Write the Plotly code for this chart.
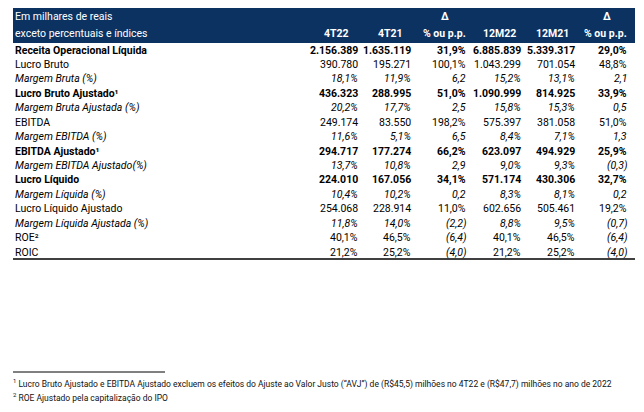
import plotly.graph_objects as go

# ---- data ----
row_labels = [
    "Receita Operacional Líquida", "Lucro Bruto", "Margem Bruta (%)",
    "Lucro Bruto Ajustado¹", "Margem Bruta Ajustada (%)", "EBITDA",
    "Margem EBITDA (%)", "EBITDA Ajustado¹", "Margem EBITDA Ajustado(%)",
    "Lucro Líquido", "Margem Líquida (%)", "Lucro Líquido Ajustado",
    "Margem Líquida Ajustada (%)", "ROE²", "ROIC",
]
col_4T22 = ["2.156.389", "390.780", "18,1%", "436.323", "20,2%", "249.174", "11,6%",
            "294.717", "13,7%", "224.010", "10,4%", "254.068", "11,8%", "40,1%", "21,2%"]
col_4T21 = ["1.635.119", "195.271", "11,9%", "288.995", "17,7%", "83.550", "5,1%",
            "177.274", "10,8%", "167.056", "10,2%", "228.914", "14,0%", "46,5%", "25,2%"]
col_d1 = ["31,9%", "100,1%", "6,2", "51,0%", "2,5", "198,2%", "6,5",
          "66,2%", "2,9", "34,1%", "0,2", "11,0%", "(2,2)", "(6,4)", "(4,0)"]
col_12M22 = ["6.885.839", "1.043.299", "15,2%", "1.090.999", "15,8%", "575.397", "8,4%",
             "623.097", "9,0%", "571.174", "8,3%", "602.656", "8,8%", "40,1%", "21,2%"]
col_12M21 = ["5.339.317", "701.054", "13,1%", "814.925", "15,3%", "381.058", "7,1%",
             "494.929", "9,3%", "430.306", "8,1%", "505.461", "9,5%", "46,5%", "25,2%"]
col_d2 = ["29,0%", "48,8%", "2,1", "33,9%", "0,5", "51,0%", "1,3",
          "25,9%", "(0,3)", "32,7%", "0,2", "19,2%", "(0,7)", "(6,4)", "(4,0)"]
# row style: b = bold, i = italic, n = normal, r = normal with italic deltas
row_style = ["b", "n", "i", "b", "i", "n", "i", "b", "i", "b", "i", "n", "i", "r", "r"]

header_top = ["Em milhares de reais", "Δ", "Δ"]
header_sub = ["exceto percentuais e índices", "4T22", "4T21", "% ou p.p.", "12M22", "12M21", "% ou p.p."]
footnotes = [
    "<sup>1</sup> Lucro Bruto Ajustado e EBITDA Ajustado excluem os efeitos do Ajuste ao Valor Justo (“AVJ”) de (R$45,5) milhões no 4T22 e (R$47,7) milhões no ano de 2022",
    "<sup>2</sup> ROE Ajustado pela capitalização do IPO",
]

# ---- layout constants ----
FONT = "Roboto"
NAVY = "#0c3262"
W, H = 644, 412
OFF = 8  # page body margin
LEFT, RIGHT = 13, 635
col_right = [359, 412, 467, 522, 576, 628]
row_y0, row_dy = 50, 14.43

fig = go.Figure()
ann = []

def add(text, x, y, anchor="left", bold=False, italic=False, size=10.5, color="#000"):
    t = text
    if bold:
        t = "<b>" + t + "</b>"
    if italic:
        t = "<i>" + t + "</i>"
    ann.append(dict(text=t, x=x, y=y, xref="x", yref="y", xanchor=anchor, yanchor="middle",
                    showarrow=False, borderpad=0,
                    font=dict(family=FONT, size=size, color=color)))

shapes = [
    dict(type="rect", x0=LEFT, x1=RIGHT, y0=7, y1=43, xref="x", yref="y",
         fillcolor=NAVY, line=dict(width=0), layer="below"),
    dict(type="line", x0=LEFT, x1=RIGHT, y0=259, y1=259, xref="x", yref="y",
         line=dict(color="#000", width=1.6)),
    dict(type="line", x0=LEFT, x1=165, y0=372, y1=372, xref="x", yref="y",
         line=dict(color="#000", width=1)),
]

# header
add(header_top[0], 14, 16, color="white")
add(header_top[1], 445, 16, anchor="center", bold=True, color="white")
add(header_top[2], 607, 16, anchor="center", bold=True, color="white")
add(header_sub[0], 14, 33, color="white")
hdr_pos = [(336, "center"), (390, "center"), (467, "right"), (499, "center"), (552, "center"), (628, "right")]
for txt, (x, a) in zip(header_sub[1:], hdr_pos):
    add(txt, x, 33, anchor=a, bold=True, color="white")

cols = [col_4T22, col_4T21, col_d1, col_12M22, col_12M21, col_d2]
for i, lab in enumerate(row_labels):
    y = row_y0 + i * row_dy
    st = row_style[i]
    b = st == "b"
    it = st == "i"
    add(lab, 14, y, bold=b, italic=it)
    for j, col in enumerate(cols):
        iti = it or (st == "r" and j in (2, 5))
        add(col[i], col_right[j], y, anchor="right", bold=b, italic=iti)

add(footnotes[0], 12, 383, size=8.5, color="#111")
add(footnotes[1], 12, 397, size=8.5, color="#111")

fig.update_layout(
    width=W, height=H, margin=dict(l=0, r=0, t=0, b=0),
    paper_bgcolor="white", plot_bgcolor="white",
    xaxis=dict(range=[OFF, W + OFF], visible=False, fixedrange=True),
    yaxis=dict(range=[H + OFF, OFF], visible=False, fixedrange=True),
    shapes=shapes, annotations=ann, showlegend=False,
)
fig.write_html("out.html")
